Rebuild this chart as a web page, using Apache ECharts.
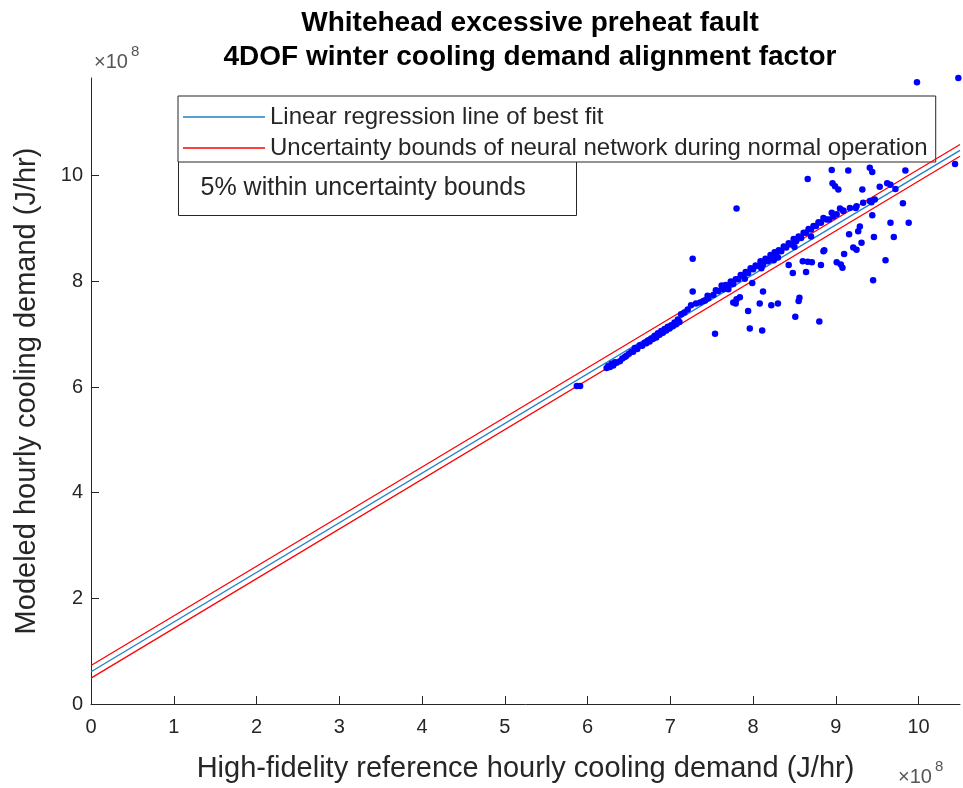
<!DOCTYPE html>
<html>
<head>
<meta charset="utf-8">
<script src="https://cdn.jsdelivr.net/npm/echarts@6/dist/echarts.min.js"></script>
<style>
  html, body { margin: 0; padding: 0; background: #fff; }
  #chart { width: 963px; height: 788px; }
</style>
</head>
<body>
<div id="chart"></div>
<script>
// Values in units of 1e8 J/hr (axis multiplier shown as x10^8)
const titleLines = ['Whitehead excessive preheat fault', '4DOF winter cooling demand alignment factor'];
const xAxisTitle = 'High-fidelity reference hourly cooling demand (J/hr)';
const yAxisTitle = 'Modeled hourly cooling demand (J/hr)';
const fitName = 'Linear regression line of best fit';
const boundName = 'Uncertainty bounds of neural network during normal operation';
const noteText = '5% within uncertainty bounds';

// Regression line and uncertainty bounds (endpoints)
const lineX = [0, 10.5];
const fitY = [0.61, 10.48];
const upperY = [0.73, 10.59];
const lowerY = [0.49, 10.37];

// Reference (x) vs modeled (y) hourly cooling demand
const refDemand = [
  9.98, 10.48, 10.44, 8.95, 9.15, 9.41, 9.44, 9.84, 8.66, 8.96, 8.99, 9.03, 9.32, 9.53, 9.62, 9.66, 9.72,
  7.80, 9.09, 9.24, 9.43, 9.81, 9.44, 9.66, 9.88, 9.29, 9.27, 9.16, 9.46, 9.70, 9.31, 9.21, 9.25, 8.86,
  9.10, 9.60, 8.60, 8.66, 8.71, 8.82, 9.01, 9.06, 9.08, 8.43, 8.48, 8.64, 9.45, 7.27, 7.27, 8.12, 7.99,
  7.80, 7.84, 7.79, 7.76, 8.08, 8.22, 8.30, 8.56, 8.55, 7.94, 8.51, 8.80, 7.96, 8.11, 7.54, 8.85,
  5.87, 5.91, 6.23, 6.27, 6.31, 6.35, 6.39, 6.45, 6.50, 6.53, 6.57, 6.63, 6.69, 6.73, 6.77, 6.81, 6.85,
  6.89, 6.93, 6.97, 7.01, 7.05, 7.09, 7.13, 7.17, 7.21, 7.36, 7.42, 7.46, 7.40, 7.52, 7.58, 7.64, 7.70,
  7.76, 7.82, 7.88, 7.94, 8.00, 8.06, 8.12, 8.18, 8.22, 8.28, 8.34, 8.40, 8.46, 8.52, 8.58, 8.64, 8.70,
  8.76, 8.82, 8.89, 8.92, 8.97, 9.01, 9.09, 9.17, 9.25, 9.33, 9.41, 9.47,
  7.25, 7.31, 7.45, 7.55, 7.62, 7.67, 7.73, 7.79, 7.85, 7.91, 7.97, 8.03, 8.09, 8.15, 8.21, 8.26, 8.31,
  8.37, 8.43, 8.49, 8.55, 8.61, 8.67, 8.73, 8.79, 8.85, 8.95, 9.05,
  7.70, 7.90, 8.10, 8.30, 8.50, 8.70, 8.25,
  6.25, 6.29, 6.33, 6.42, 6.47, 6.55, 6.60, 6.66, 6.71, 6.75, 6.79, 6.83, 6.87, 6.91, 6.95, 6.99, 7.03, 7.07, 7.11
];
const modeledDemand = [
  11.77, 11.85, 10.22, 10.11, 10.10, 10.15, 10.07, 10.10, 9.94, 9.86, 9.80, 9.74, 9.74, 9.79, 9.86, 9.83, 9.75,
  9.38, 9.34, 9.39, 9.50, 9.48, 9.25, 9.11, 9.11, 9.04, 8.95, 8.89, 8.84, 8.84, 8.73, 8.64, 8.60, 8.59,
  8.52, 8.40, 8.38, 8.37, 8.36, 8.31, 8.36, 8.32, 8.26, 8.31, 8.16, 8.18, 8.02, 8.43, 7.81, 7.81, 7.97,
  7.66, 7.70, 7.58, 7.60, 7.58, 7.55, 7.58, 7.69, 7.63, 7.44, 7.33, 7.24, 7.11, 7.07, 7.01, 8.57,
  6.02, 6.02, 6.36, 6.38, 6.41, 6.46, 6.49, 6.57, 6.63, 6.67, 6.74, 6.79, 6.84, 6.88, 6.92, 6.97, 7.02,
  7.06, 7.10, 7.14, 7.17, 7.22, 7.28, 7.38, 7.41, 7.47, 7.60, 7.64, 7.68, 7.63, 7.74, 7.82, 7.85, 7.91,
  7.95, 8.04, 8.10, 8.16, 8.23, 8.29, 8.32, 8.38, 8.45, 8.51, 8.57, 8.64, 8.70, 8.76, 8.82, 8.92, 8.98,
  9.05, 9.11, 9.17, 9.17, 9.23, 9.27, 9.33, 9.39, 9.42, 9.49, 9.52, 9.55,
  7.55, 7.58, 7.73, 7.83, 7.92, 7.93, 8.00, 8.04, 8.12, 8.18, 8.25, 8.30, 8.38, 8.43, 8.50, 8.55, 8.59,
  8.66, 8.72, 8.80, 8.85, 8.92, 8.99, 9.05, 9.12, 9.20, 9.30, 9.38,
  7.85, 8.05, 8.25, 8.45, 8.65, 8.85, 8.40,
  6.40, 6.44, 6.47, 6.54, 6.59, 6.67, 6.72, 6.78, 6.83, 6.86, 6.91, 6.94, 6.99, 7.03, 7.07, 7.11, 7.15, 7.19, 7.23
];

const xTicks = [0, 1, 2, 3, 4, 5, 6, 7, 8, 9, 10];
const yTicks = [0, 2, 4, 6, 8, 10];

const points = refDemand.map((x, i) => [x, modeledDemand[i]]);
const pair = (ys) => lineX.map((x, i) => [x, ys[i]]);

const axisColor = '#262626';
const font = 'Liberation Sans, Arial, sans-serif';

const chart = echarts.init(document.getElementById('chart'));
chart.setOption({
  animation: false,
  backgroundColor: '#fff',
  title: {
    text: titleLines.join('\n'),
    left: 525,
    top: 1,
    textAlign: 'center',
    textStyle: { fontFamily: font, fontSize: 28, fontWeight: 'bold', color: '#000', lineHeight: 34 }
  },
  grid: { left: 91, right: 3, top: 78, bottom: 84, containLabel: false },
  legend: {
    orient: 'vertical',
    left: 178,
    top: 96,
    icon: 'rect',
    itemWidth: 82,
    itemHeight: 1.6,
    itemGap: 7,
    padding: [9, 8, 2, 5],
    borderColor: axisColor,
    borderWidth: 1,
    backgroundColor: '#fff',
    textStyle: { fontFamily: font, fontSize: 24, color: axisColor },
    data: [fitName, boundName]
  },
  xAxis: {
    type: 'value',
    min: 0,
    max: 10.5,
    interval: 1,
    name: xAxisTitle,
    nameLocation: 'middle',
    nameGap: 50,
    nameTextStyle: { fontFamily: font, fontSize: 29, color: axisColor },
    axisLine: { show: true, onZero: false, lineStyle: { color: axisColor, width: 1 } },
    axisTick: { show: true, inside: true, length: 8, lineStyle: { color: axisColor } },
    axisLabel: {
      fontFamily: font, fontSize: 20, color: axisColor, margin: 13,
      showMaxLabel: false,
      formatter: (v) => (xTicks.indexOf(v) >= 0 ? String(v) : '')
    },
    splitLine: { show: false }
  },
  yAxis: {
    type: 'value',
    min: 0,
    max: 11.85,
    interval: 2,
    name: yAxisTitle,
    nameLocation: 'middle',
    nameGap: 50,
    nameRotate: 90,
    nameTextStyle: { fontFamily: font, fontSize: 29, color: axisColor },
    axisLine: { show: true, onZero: false, lineStyle: { color: axisColor, width: 1 } },
    axisTick: { show: true, inside: true, length: 8, lineStyle: { color: axisColor } },
    axisLabel: {
      fontFamily: font, fontSize: 20, color: axisColor, margin: 8,
      showMaxLabel: false,
      formatter: (v) => (yTicks.indexOf(v) >= 0 ? String(v) : '')
    },
    splitLine: { show: false }
  },
  series: [
    {
      name: 'Demand samples',
      type: 'scatter',
      data: points,
      symbol: 'circle',
      symbolSize: 6.5,
      clip: false,
      itemStyle: { color: '#0000FF', opacity: 1 },
      z: 5
    },
    {
      name: fitName,
      type: 'line',
      data: pair(fitY),
      symbol: 'none',
      lineStyle: { color: '#1F80C8', width: 1.3 },
      itemStyle: { color: '#1F80C8' },
      z: 4
    },
    {
      name: boundName,
      type: 'line',
      data: pair(upperY),
      symbol: 'none',
      lineStyle: { color: '#FF0000', width: 1.3 },
      itemStyle: { color: '#FF0000' },
      z: 4
    },
    {
      name: boundName,
      type: 'line',
      data: pair(lowerY),
      symbol: 'none',
      lineStyle: { color: '#FF0000', width: 1.3 },
      itemStyle: { color: '#FF0000' },
      z: 4
    }
  ],
  graphic: [
    {
      type: 'group',
      left: 178,
      top: 160,
      z: 100,
      children: [
        { type: 'rect', shape: { x: 0, y: 0, width: 398, height: 55 },
          style: { fill: '#fff', stroke: axisColor, lineWidth: 1 } },
        { type: 'text', x: 22, y: 28,
          style: { text: noteText, fontFamily: font, fontSize: 25, fill: axisColor, verticalAlign: 'middle' } }
      ]
    },
    { type: 'text', left: 94, top: 52, z: 100,
      style: { text: '\u00d710', fontFamily: font, fontSize: 20, fill: '#555' } },
    { type: 'text', left: 131, top: 44, z: 100,
      style: { text: '8', fontFamily: font, fontSize: 15, fill: '#555' } },
    { type: 'text', left: 898, top: 767, z: 100,
      style: { text: '\u00d710', fontFamily: font, fontSize: 20, fill: '#555' } },
    { type: 'text', left: 935, top: 759, z: 100,
      style: { text: '8', fontFamily: font, fontSize: 15, fill: '#555' } }
  ]
});
</script>
</body>
</html>
